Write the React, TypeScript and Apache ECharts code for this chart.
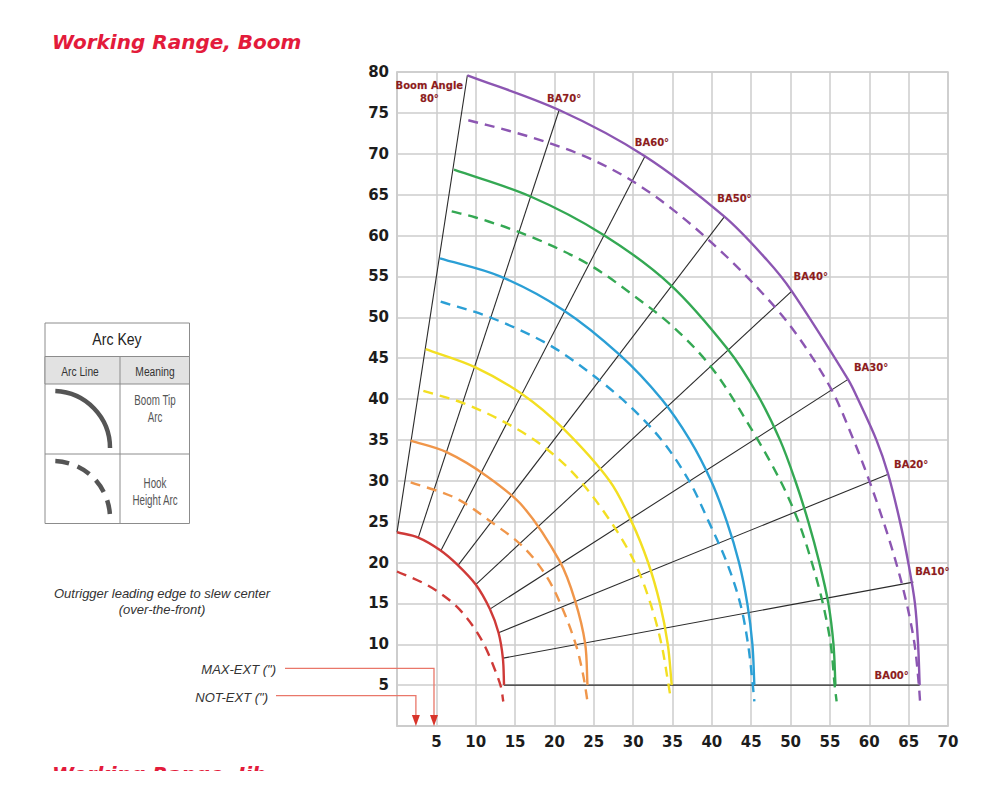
import { useEffect, useRef } from 'react'
import * as echarts from 'echarts'

// axis ranges (tick labels every 5)
const xMax = 70
const yMax = 80
const tickStep = 5

// boom angle lines: start on the retracted tip arc, end on the fully extended tip arc
const boomLabels = ['Boom Angle\n80°', 'BA70°', 'BA60°', 'BA50°', 'BA40°', 'BA30°', 'BA20°', 'BA10°', 'BA00°']
const boomStart = [[0, 23.7], [2.7, 23.05], [5.6, 21.5], [7.8, 19.7], [10.0, 17.3], [11.8, 14.3], [12.9, 11.4], [13.5, 8.3], [13.6, 5]]
const boomEnd = [[8.94, 79.6], [20.6, 75.35], [31.5, 69.7], [41.6, 62.3], [50.15, 53.2], [57.3, 42.4], [62.4, 30.8], [65.6, 17.6], [66.4, 5]]

// boom tip arcs (solid)
const tipRed = [[0, 23.7], [2.7, 23.05], [5.5, 21.5], [7.7, 19.7], [10.0, 17.3], [11.8, 14.3], [12.9, 11.4], [13.45, 8.3], [13.6, 5]]
const tipOrange = [[1.74, 34.9], [6.3, 33.5], [11.5, 30.5], [16.05, 26.8], [20.7, 20.1], [22.6, 15.4], [23.9, 10.1], [24.2, 5]]
const tipYellow = [[3.64, 46.1], [9.9, 43.9], [16.05, 40.5], [21.1, 36.4], [27.0, 30], [29.8, 25], [31.9, 20], [33.4, 15], [34.4, 10], [34.9, 5]]
const tipBlue = [[5.46, 57.2], [13.1, 55.0], [21.1, 50.9], [28.3, 45.4], [33.6, 40], [37.2, 35], [39.9, 30], [41.9, 25], [43.45, 20], [44.5, 15], [45.15, 10], [45.4, 5]]
const tipGreen = [[7.24, 68.05], [16.9, 64.8], [26.2, 60.1], [34.7, 54.0], [42.1, 46.0], [45.7, 40.7], [48.65, 35], [50.6, 30], [52.25, 25], [53.65, 20], [54.8, 15], [55.45, 10], [55.7, 5]]
const tipPurple = [[8.94, 79.6], [20.6, 75.35], [31.5, 69.7], [41.6, 62.3], [47.0, 57.0], [50.15, 53.2], [57.3, 42.4], [58.6, 39.9], [60.9, 35], [62.4, 30.8], [63.9, 25], [64.95, 20], [65.8, 15], [66.2, 10], [66.4, 5]]

// hook height arcs (dashed)
const hookRed = [[0, 18.9], [3.0, 17.65], [5.25, 16.4], [7.6, 14.6], [9.7, 12.15], [11.2, 9.7], [12.45, 6.85], [13.2, 4.8], [13.5, 3.0]]
const hookOrange = [[1.74, 29.8], [7.4, 27.9], [12.2, 24.8], [16.05, 21.9], [19.0, 18.3], [21.1, 14.2], [22.8, 9.7], [23.7, 6.0], [24.2, 3.0]]
const hookYellow = [[3.35, 41.0], [8.4, 39.5], [13.9, 37.05], [18.6, 34.2], [22.8, 30.5], [27.15, 25], [30.2, 20], [32.2, 15], [33.6, 10], [34.5, 5], [34.8, 3.2]]
const hookBlue = [[5.55, 51.9], [11.8, 50.0], [19.0, 46.8], [24.5, 43.2], [29.6, 39.1], [33.6, 35], [37.1, 30], [39.6, 25], [41.9, 20], [43.6, 15], [44.6, 10], [45.2, 5], [45.4, 3.0]]
const hookGreen = [[6.95, 62.95], [10, 62.2], [15, 60.6], [20, 58.6], [25, 56.1], [30, 52.7], [35, 48.9], [40, 43.8], [44.85, 36.6], [48.7, 30], [51.0, 25], [52.7, 20], [54.1, 15], [55.1, 10], [55.6, 5], [55.85, 3.0]]
const hookPurple = [[9.06, 74.1], [15, 72.6], [20, 71.1], [25, 69.2], [30, 66.6], [35, 63.2], [40, 59.1], [45, 54.4], [50, 48.9], [55, 41.5], [58.0, 35], [60.0, 30], [61.8, 25], [63.4, 20], [64.75, 15], [65.75, 10], [66.3, 5], [66.45, 3.0]]

// outrigger leading edge to slew center (x in ft)
const maxExt = 4.7
const notExt = 2.4

const tipArcs = [tipRed, tipOrange, tipYellow, tipBlue, tipGreen, tipPurple]
const hookArcs = [hookRed, hookOrange, hookYellow, hookBlue, hookGreen, hookPurple]
const arcColors = ['#cf3a38', '#f0964a', '#f3df22', '#2b9fd5', '#34a853', '#8c56b2']

// smooth curve through pixel points; tangent handles scaled by each segment's length
function curvePath(pts: number[][]) {
  const unit = (a: number[], b: number[]) => {
    const dx = b[0] - a[0]
    const dy = b[1] - a[1]
    const l = Math.hypot(dx, dy) || 1
    return [dx / l, dy / l]
  }
  let d = `M${pts[0][0]},${pts[0][1]}`
  for (let i = 0; i < pts.length - 1; i++) {
    const p0 = pts[i - 1] || pts[i]
    const p1 = pts[i]
    const p2 = pts[i + 1]
    const p3 = pts[i + 2] || p2
    const len = Math.hypot(p2[0] - p1[0], p2[1] - p1[1]) / 3
    const t1 = unit(p0, p2)
    const t2 = unit(p1, p3)
    d += ` C${p1[0] + t1[0] * len},${p1[1] + t1[1] * len} ${p2[0] - t2[0] * len},${p2[1] - t2[1] * len} ${p2[0]},${p2[1]}`
  }
  return d
}

export default function App() {
  const ref = useRef<HTMLDivElement>(null)

  useEffect(() => {
    if (!ref.current) return
    const chart = echarts.init(ref.current, null, { renderer: 'svg' })

    const axisLabel = {
      color: '#1c1c1c',
      fontFamily: 'DejaVu Sans',
      fontWeight: 'bold',
      fontSize: 15,
      formatter: (v: number) => (v === 0 ? '' : String(v)),
    }
    const gridLine = { show: true, lineStyle: { color: '#cccccc', width: 1.5 } }

    const boomSeries = boomStart.map((s, i) => ({
      name: boomLabels[i],
      type: 'line',
      data: [s, boomEnd[i]],
      symbol: 'none',
      silent: true,
      clip: false,
      z: 2,
      lineStyle: { color: '#2b2b2b', width: 1.1 },
    }))

    const arcSeries = (data: number[][], color: string, dashed: boolean) => ({
      type: 'custom',
      data,
      silent: true,
      clip: false,
      z: 3,
      renderItem: (params: any, api: any) => {
        if (params.dataIndex !== 0) return null
        const pts = data.map((p) => api.coord(p))
        return {
          type: 'path',
          shape: { pathData: curvePath(pts) },
          style: { stroke: color, lineWidth: 2.4, fill: 'none', lineDash: dashed ? [10, 7] : null },
        }
      },
    })

    chart.setOption({
      animation: false,
      grid: { left: 397, right: 52, top: 72, bottom: 62, show: true, borderColor: '#cccccc', borderWidth: 1.5 },
      xAxis: {
        type: 'value', min: 0, max: xMax, interval: tickStep,
        axisLine: { show: true, lineStyle: { color: '#cccccc', width: 1.5 } },
        axisTick: { show: false },
        axisLabel: { ...axisLabel, margin: 8 },
        splitLine: gridLine,
      },
      yAxis: {
        type: 'value', min: 0, max: yMax, interval: tickStep,
        axisLine: { show: true, lineStyle: { color: '#cccccc', width: 1.5 } },
        axisTick: { show: false },
        axisLabel: { ...axisLabel, margin: 8 },
        splitLine: gridLine,
      },
      series: [
        ...boomSeries,
        ...tipArcs.map((d, i) => arcSeries(d, arcColors[i], false)),
        ...hookArcs.map((d, i) => arcSeries(d, arcColors[i], true)),
      ],
    })

    const toPx = (p: number[]) => chart.convertToPixel({ gridIndex: 0 }, p) as number[]

    // label placement relative to each boom line end
    const labelOffsets = [[-38, 17], [5, -12], [7, -14], [10, -18], [19, -15], [23, -12], [23, -10], [19, -11], [-28, -10]]
    const boomText = boomEnd.map((e, i) => {
      const [x, y] = toPx(e)
      return {
        type: 'text',
        x: x + labelOffsets[i][0],
        y: y + labelOffsets[i][1],
        z: 10,
        style: {
          text: boomLabels[i],
          align: 'center',
          verticalAlign: 'middle',
          fill: '#8e1c1c',
          font: 'bold 10px "DejaVu Sans"',
          lineHeight: 13,
          stroke: 'rgba(90,40,40,0.35)',
          lineWidth: 0.4,
        },
      }
    })

    const arrow = (val: number, textRight: number, yLine: number) => {
      const [ax, bottom] = toPx([val, 0])
      return [
        {
          type: 'polyline',
          shape: { points: [[textRight, yLine], [ax, yLine], [ax, bottom - 10]] },
          style: { stroke: '#e9776a', lineWidth: 1.3, fill: 'none' },
          z: 10,
        },
        {
          type: 'polygon',
          shape: { points: [[ax - 4, bottom - 11], [ax + 4, bottom - 11], [ax, bottom]] },
          style: { fill: '#d8342a' },
          z: 10,
        },
      ]
    }

    const keyText = (text: string, x: number, y: number, size: number, color: string, sx: number, lh = 17) => ({
      type: 'text', x, y, scaleX: sx,
      style: { text, align: 'center', verticalAlign: 'middle', fill: color, font: `${size}px "Liberation Sans"`, lineHeight: lh },
    })

    chart.setOption({
      graphic: [
        {
          type: 'text', left: 52, top: 32,
          style: { text: 'Working Range, Boom', fill: '#e31b3b', font: 'italic bold 20px "DejaVu Sans"' },
        },
        {
          type: 'text', x: 52, y: 774,
          style: { text: 'Working Range, Jib', fill: '#e31b3b', font: 'italic bold 20px "DejaVu Sans"', verticalAlign: 'middle' },
        },
        { type: 'rect', shape: { x: 0, y: 771, width: 390, height: 20 }, style: { fill: '#ffffff' }, z: 20 },

        // arc key table
        { type: 'rect', shape: { x: 45, y: 323, width: 144.5, height: 200.5 }, style: { fill: '#ffffff', stroke: '#8c8c8c', lineWidth: 1 } },
        { type: 'rect', shape: { x: 45, y: 356.5, width: 144.5, height: 27.5 }, style: { fill: '#e2e2e2', stroke: '#8c8c8c', lineWidth: 1 } },
        { type: 'line', shape: { x1: 45, y1: 454, x2: 189.5, y2: 454 }, style: { stroke: '#8c8c8c', lineWidth: 1 } },
        { type: 'line', shape: { x1: 120, y1: 356.5, x2: 120, y2: 523.5 }, style: { stroke: '#8c8c8c', lineWidth: 1 } },
        keyText('Arc Key', 117, 339, 16, '#222222', 0.88),
        keyText('Arc Line', 80, 371.5, 12.5, '#333333', 0.82),
        keyText('Meaning', 155, 371.5, 12.5, '#333333', 0.82),
        keyText('Boom Tip\nArc', 155, 409, 14, '#555555', 0.7),
        keyText('Hook\nHeight Arc', 155, 492, 14, '#555555', 0.7),
        {
          type: 'arc',
          shape: { cx: 53, cy: 448, r: 57, startAngle: -1.53, endAngle: 0, clockwise: true },
          style: { stroke: '#555555', lineWidth: 4.5, fill: 'none' },
        },
        {
          type: 'arc',
          shape: { cx: 53, cy: 518, r: 57, startAngle: -1.53, endAngle: 0, clockwise: true },
          style: { stroke: '#555555', lineWidth: 4.5, fill: 'none', lineDash: [14, 9] },
        },

        // outrigger notes
        {
          type: 'text', x: 162, y: 601,
          style: {
            text: 'Outrigger leading edge to slew center\n(over-the-front)',
            align: 'center', verticalAlign: 'middle', fill: '#333333',
            font: 'italic 13px "Liberation Sans"', lineHeight: 16,
          },
        },
        {
          type: 'text', x: 276, y: 669,
          style: { text: 'MAX-EXT (")', align: 'right', verticalAlign: 'middle', fill: '#333333', font: 'italic 13px "Liberation Sans"' },
        },
        {
          type: 'text', x: 268, y: 697,
          style: { text: 'NOT-EXT (")', align: 'right', verticalAlign: 'middle', fill: '#333333', font: 'italic 13px "Liberation Sans"' },
        },
        ...arrow(maxExt, 285, 668.3),
        ...arrow(notExt, 276, 695.7),
        ...boomText,
      ],
    })

    return () => {
      chart.dispose()
    }
  }, [])

  return (
    <div
      ref={ref}
      style={{ position: 'absolute', left: 0, top: 0, width: 1000, height: 788, background: '#ffffff' }}
    />
  )
}
